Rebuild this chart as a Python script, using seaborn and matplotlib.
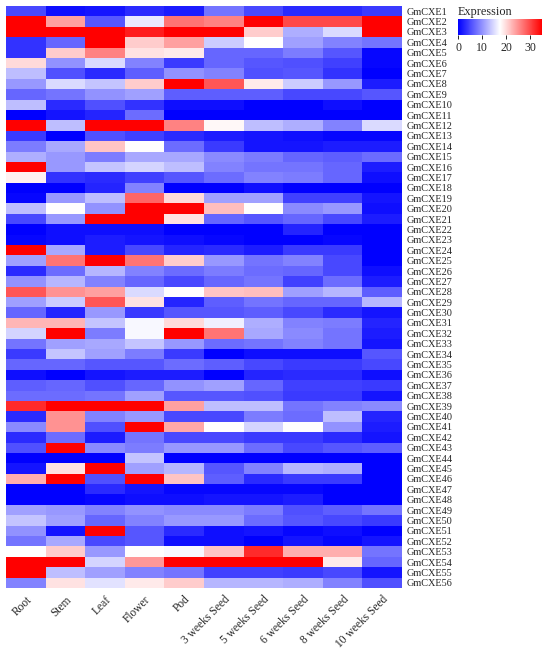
import matplotlib
matplotlib.use("Agg")
import matplotlib.pyplot as plt
import numpy as np
import pandas as pd
import seaborn as sns
from matplotlib.colors import LinearSegmentedColormap

tissues = ["Root", "Stem", "Leaf", "Flower", "Pod", "3 weeks Seed",
           "5 weeks Seed", "6 weeks Seed", "8 weeks Seed", "10 weeks Seed"]
genes = [f"GmCXE{i}" for i in range(1, 57)]

# expression per gene, columns in tissue order
expression = [
    [5, 1, 1.5, 3, 2, 8, 5, 3, 3, 4],
    [35, 24, 6, 16, 27, 26, 35, 30, 30, 35],
    [35, 35, 35, 33, 35, 35, 21, 12, 15, 35],
    [3.5, 7, 35, 21, 24, 14, 17.5, 11, 9, 8],
    [3.5, 21, 26, 19.5, 19, 7, 7, 8.5, 6, 0.5],
    [20, 10, 15, 9, 4, 7, 6, 5.5, 4.5, 0.5],
    [13, 5.5, 3, 6.5, 10, 9, 5.5, 6, 3.5, 0],
    [10.5, 15, 13.5, 21, 35, 29, 19, 14, 10.5, 2],
    [7, 8, 10, 11, 6.5, 6.5, 6.5, 5, 5, 6],
    [13, 3, 5.5, 3.5, 1, 1, 0, 0, 1, 0],
    [0, 1.5, 2.5, 7.5, 0, 0, 0, 0, 0, 0],
    [35, 13, 35, 35, 26, 18, 13, 12, 9, 15],
    [4, 0, 5.5, 4.5, 3, 2, 1.5, 1, 0.5, 0.5],
    [8.5, 11.5, 21.5, 17.5, 7.5, 4, 1.5, 1.5, 2, 2],
    [12, 10.5, 8.5, 11.5, 11.5, 9.5, 8.5, 7, 6.5, 7.5],
    [35, 10.5, 13.5, 14.5, 13, 9, 8, 8, 7, 2],
    [18.5, 3.5, 3, 4.5, 6, 7.5, 9, 8.5, 7, 1],
    [0, 0, 2.5, 9, 0, 0, 1, 0, 0, 0],
    [0.5, 10.5, 13, 28, 20, 11, 11, 4.5, 4.5, 1.5],
    [13, 17.5, 10, 35, 35, 22, 17.5, 9.5, 10.5, 1],
    [5, 10.5, 35, 35, 19.5, 7, 6, 7, 5, 2],
    [0, 1, 1, 1, 0, 0, 0, 2.5, 0, 0],
    [0.5, 1, 2, 1.5, 1, 0.5, 0, 0, 0.5, 0],
    [35, 11.5, 2, 5, 2.5, 3, 2, 4, 4, 0],
    [11, 27, 35, 27, 21, 10.5, 8, 9, 5, 0],
    [3, 7.5, 12.5, 9, 7.5, 8.5, 7.5, 7, 5, 1],
    [10, 12.5, 9, 7, 5, 7, 8, 4.5, 7.5, 2],
    [29, 25, 24, 15, 17.5, 21.5, 22, 11, 12.5, 6.5],
    [11, 14, 29, 19.5, 2.5, 6.5, 8, 7, 7, 12.5],
    [7, 2.5, 10.5, 4, 6, 6, 6.5, 5, 3, 1.5],
    [22.5, 22.5, 13.5, 17, 20, 16.5, 12, 9, 8.5, 2.5],
    [14.5, 35, 8.5, 17, 35, 27, 11.5, 9.5, 8, 2],
    [8, 11, 11.5, 13.5, 10.5, 7.5, 8, 9, 8, 1.5],
    [4, 13.5, 11, 8.5, 4, 0, 1, 1, 1, 6],
    [7, 7, 6, 6, 7.5, 6.5, 5, 4, 4, 5],
    [1, 0, 1.5, 2, 2, 0, 2.5, 3, 3, 1],
    [6.5, 7, 5.5, 7, 10, 11, 7, 4.5, 4.5, 4],
    [7.5, 7.5, 8, 11, 6, 6, 5.5, 4, 4, 1.5],
    [32, 35, 35, 35, 24, 13, 13, 8, 9, 9.5],
    [3, 25, 9, 10.5, 5, 5, 8.5, 7.5, 13, 2.5],
    [9.5, 25, 5.5, 35, 23.5, 17.5, 14.5, 17.5, 10, 2],
    [3, 7.5, 2, 8, 5, 5, 4, 4, 3, 1.5],
    [5.5, 35, 9.5, 8.5, 10.5, 10.5, 7.5, 5, 6, 6.5],
    [0, 0, 0, 13.5, 0, 0, 0, 0, 0, 0],
    [1.5, 19.5, 35, 11, 12.5, 6, 9, 12.5, 12, 0],
    [23, 35, 5.5, 35, 21.5, 6.5, 3, 4, 4, 0],
    [0, 0, 3, 1.5, 0.5, 0.5, 0.5, 0.5, 0, 0],
    [0, 0, 0.5, 1, 1, 1.5, 1.5, 2, 0, 0],
    [11, 10.5, 9, 10, 9.5, 9.5, 8.5, 5.5, 6.5, 8],
    [13.5, 11, 7, 9, 10.5, 10.5, 7.5, 6, 5, 4],
    [10, 1.5, 35, 6, 3, 1, 1.5, 0.5, 1, 0],
    [8, 11.5, 5, 6, 1, 1, 0, 1.5, 0.5, 1.5],
    [17.5, 21, 10.5, 17.5, 17, 21.5, 32, 23, 23, 8],
    [35, 35, 14.5, 24.5, 35, 35, 35, 35, 19, 7],
    [35, 13, 11, 9, 8, 4.5, 4.5, 4, 5, 1.5],
    [9, 19.5, 15.5, 19, 21, 12.5, 12.5, 12, 9, 5.5],
]

df = pd.DataFrame(expression, index=genes, columns=tissues)

sns.set_style("white")
plt.rcParams["font.family"] = ["Liberation Serif", "DejaVu Serif"]

cmap = LinearSegmentedColormap.from_list("bwr_expr", ["#0000FF", "#FFFFFF", "#FF0000"])

fig = plt.figure(figsize=(5.5, 6.52), dpi=100)
W, H = 550, 652
ax = fig.add_axes([6 / W, 1 - 588 / H, (402 - 6) / W, (588 - 6) / H])
cax = fig.add_axes([458 / W, 1 - 35 / H, (542 - 458) / W, 16 / H])

sns.heatmap(df, ax=ax, cmap=cmap, vmin=0, vmax=35, cbar_ax=cax,
            cbar_kws={"orientation": "horizontal", "ticks": [0, 10, 20, 30]},
            xticklabels=True, yticklabels=True)

ax.yaxis.tick_right()
ax.set_yticklabels(genes, rotation=0, fontsize=7.4)
ax.set_xticklabels(tissues, rotation=45, ha="right", rotation_mode="anchor", fontsize=8.3)
ax.tick_params(axis="y", length=0, pad=3)
ax.tick_params(axis="x", length=0, pad=4)
ax.set_xlabel("")
ax.set_ylabel("")

cax.tick_params(labelsize=8.5, length=3, width=0.7, pad=2)
cax.set_title("Expression", fontsize=8.8, loc="left", pad=3)
for s in cax.spines.values():
    s.set_visible(False)

fig.savefig("out.png", dpi=100)
